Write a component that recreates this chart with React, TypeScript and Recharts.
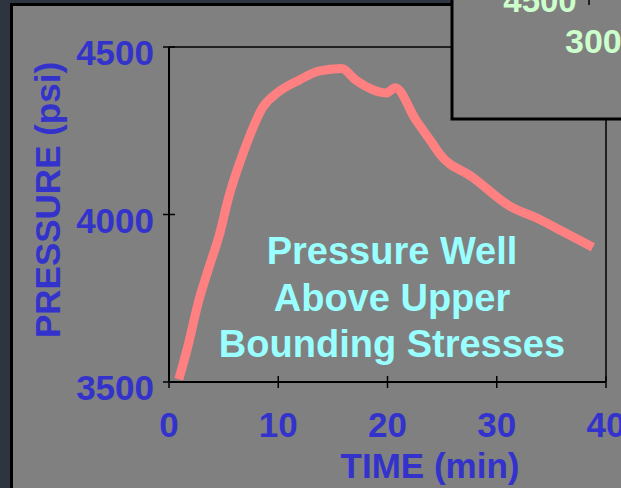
import React from "react";
import { LineChart, Line, XAxis, YAxis } from "recharts";

// pressure trace
const timeMin = [0.9, 1.65, 2.75, 3.6, 4.7, 5.4, 6.9, 8.6, 9.9, 11.9, 13.7, 15.8, 17.1, 19.9, 20.7, 22.6, 24.1, 24.8, 27.8, 31.2, 33.9, 36.0, 38.8];
const pressurePsi = [3508, 3597, 3746, 3836, 3950, 4044, 4193, 4321, 4363, 4401, 4428, 4436, 4401, 4363, 4378, 4282, 4213, 4180, 4111, 4025, 3986, 3950, 3902];

const xTicks = [0, 10, 20, 30, 40];
const yTicks = [3500, 4000, 4500];
const noteLines = ["Pressure Well", "Above Upper", "Bounding Stresses"];
const insetLabels = ["4500", "300"];

const data = timeMin.map((t, i) => ({ t, p: pressurePsi[i] }));

const BLUE = "#3333cc";
const FONT = "'Liberation Sans', Arial, sans-serif";

function XTick(props: any) {
  const { x, y, payload } = props;
  return (
    <g>
      <line x1={x} x2={x} y1={y - 6} y2={y + 6} stroke="#000" strokeWidth={1.5} />
      <text x={x} y={y + 55} textAnchor="middle" fill={BLUE} fontSize={35} fontWeight="bold" fontFamily={FONT}>
        {payload.value}
      </text>
    </g>
  );
}

function YTick(props: any) {
  const { x, y, payload } = props;
  return (
    <g>
      <line x1={x - 6} x2={x + 6} y1={y} y2={y} stroke="#000" strokeWidth={1.5} />
      <text x={x - 15} y={y + 18} textAnchor="end" fill={BLUE} fontSize={35} fontWeight="bold" fontFamily={FONT}>
        {payload.value}
      </text>
    </g>
  );
}

export default function App() {
  return (
    <div style={{ position: "fixed", left: 0, top: 0, width: 621, height: 488, background: "#2f3540", overflow: "hidden" }}>
      <div
        style={{
          position: "absolute", left: 10, top: 3, width: 700, height: 600,
          background: "#808080", borderLeft: "3px solid #000", borderTop: "3px solid #000",
        }}
      />
      <div style={{ position: "absolute", left: 0, top: 0 }}>
        <LineChart width={621} height={488} data={data} margin={{ top: 46, right: 14, bottom: 66, left: 109 }}>
          <XAxis
            xAxisId="b" dataKey="t" type="number" domain={[0, 40]} ticks={xTicks} interval={0}
            tickSize={0} tickMargin={0} tickLine={false} tick={<XTick />}
            axisLine={{ stroke: "#000", strokeWidth: 2 }} height={40}
          />
          <XAxis xAxisId="top" orientation="top" dataKey="t" type="number" domain={[0, 40]} tick={false} tickLine={false} axisLine={{ stroke: "#000", strokeWidth: 1.5 }} height={1} />
          <YAxis
            yAxisId="l" type="number" domain={[3500, 4500]} ticks={yTicks} interval={0}
            tickSize={0} tickMargin={0} tickLine={false} tick={<YTick />}
            axisLine={{ stroke: "#000", strokeWidth: 2 }} width={60}
          />
          <YAxis yAxisId="r" orientation="right" type="number" domain={[3500, 4500]} tick={false} tickLine={false} axisLine={{ stroke: "#000", strokeWidth: 1.5 }} width={1} />
          <Line
            xAxisId="b" yAxisId="l" type="monotone" dataKey="p" stroke="#ff8080" strokeWidth={9}
            dot={false} isAnimationActive={false}
          />
        </LineChart>
      </div>
      <svg width={621} height={488} style={{ position: "absolute", left: 0, top: 0, pointerEvents: "none" }}>
        <text x={60} y={200} transform="rotate(-90 60 200)" textAnchor="middle" fill={BLUE} fontSize={35} fontWeight="bold" fontFamily={FONT}>
          PRESSURE (psi)
        </text>
        <text x={430} y={478} textAnchor="middle" fill={BLUE} fontSize={35} fontWeight="bold" fontFamily={FONT}>
          TIME (min)
        </text>
        {noteLines.map((s, i) => (
          <text key={s} x={392} y={264 + i * 46.5} textAnchor="middle" fill="#99ffff" fontSize={38} fontWeight="bold" fontFamily={FONT}>
            {s}
          </text>
        ))}
        <rect x={452} y={-10} width={200} height={129} fill="#808080" stroke="#000" strokeWidth={3} />
        <line x1={589} x2={589} y1={0} y2={5} stroke="#000" strokeWidth={1.5} />
        <text x={540} y={12} textAnchor="middle" fill="#ccffcc" fontSize={33} fontWeight="bold" fontFamily={FONT}>
          {insetLabels[0]}
        </text>
        <text x={565} y={53} fill="#ccffcc" fontSize={34} fontWeight="bold" fontFamily={FONT}>
          {insetLabels[1]}
        </text>
      </svg>
    </div>
  );
}
